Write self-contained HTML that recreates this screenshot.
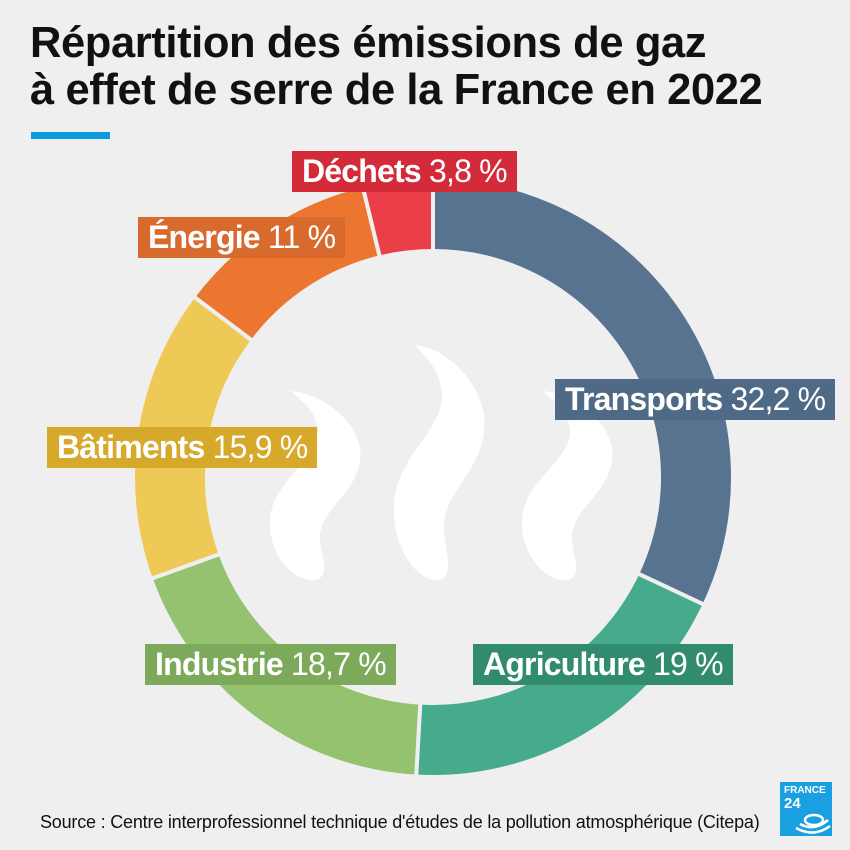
<!DOCTYPE html>
<html><head><meta charset="utf-8"><style>
body{margin:0;background:#efeff0;}
#wrap{position:relative;width:850px;height:850px;overflow:hidden;background:#efeff0;font-family:"Liberation Sans",Arial,sans-serif;}
.title{position:absolute;left:30px;top:20px;font-size:43.5px;font-weight:bold;line-height:47px;color:#111;letter-spacing:-0.4px;margin:0}
.lbl{position:absolute;height:41px;line-height:41px;font-size:32px;color:#fff;padding:0 10px;white-space:nowrap;letter-spacing:-0.8px}
.lbl b{font-weight:bold}
</style></head><body>
<div id="wrap">
<h1 class="title">Répartition des émissions de gaz<br>à effet de serre de la France en 2022</h1>
<div style="position:absolute;left:31px;top:132px;width:79px;height:7px;background:#0a9be0"></div>
<svg id="chart" width="850" height="850" style="position:absolute;left:0;top:0">
<defs><path id="wisp" d="M291 391 C330 395 365 430 360 460 C356 495 318 510 320 540 C322 560 330 575 316 580 C290 582 268 550 270 520 C272 480 320 460 318 430 C316 410 300 400 291 391 Z"/></defs>
<g id="steam" fill="#fff">
<use href="#wisp"/>
<use href="#wisp" transform="translate(124,580) scale(1,1.245) translate(0,-580)"/>
<use href="#wisp" transform="translate(252,0)"/>
</g>
<g id="slices"></g>
</svg>
<div class="lbl" style="left:292px;top:151px;background:#d42b3a"><b>Déchets</b> 3,8 %</div>
<div class="lbl" style="left:138px;top:217px;background:#d96a2e"><b>Énergie</b> 11 %</div>
<div class="lbl" style="left:555px;top:379px;background:#4f6a86"><b>Transports</b> 32,2 %</div>
<div class="lbl" style="left:47px;top:427px;background:#d6a92a"><b>Bâtiments</b> 15,9 %</div>
<div class="lbl" style="left:145px;top:644px;background:#7ca95a"><b>Industrie</b> 18,7 %</div>
<div class="lbl" style="left:473px;top:644px;background:#318c6f"><b>Agriculture</b> 19 %</div>
<div style="position:absolute;left:40px;top:812px;font-size:18px;color:#111;letter-spacing:-0.2px">Source : Centre interprofessionnel technique d'études de la pollution atmosphérique (Citepa)</div>
<div style="position:absolute;left:780px;top:782px;width:52px;height:54px;background:#1aa0e0;color:#fff;font-weight:bold;font-family:'Liberation Sans Narrow','Liberation Sans',sans-serif">
<div style="position:absolute;left:4px;top:4px;font-size:10px;line-height:10px">FRANCE</div>
<div style="position:absolute;left:4px;top:14px;font-size:15px;line-height:15px">24</div>
<svg width="52" height="54" style="position:absolute;left:0;top:0"><g fill="none" stroke="#fff" stroke-width="2.5"><ellipse cx="34" cy="38" rx="9" ry="5"/><path d="M20 42 Q34 50 48 38"/><path d="M16 46 Q34 56 50 44"/></g></svg>
</div>
</div>
<script>
const categories=["Transports","Agriculture","Industrie","Bâtiments","Énergie","Déchets"];
const values=[32.2,19,18.7,15.9,11,3.8];
const colors=["#58738f","#45ab8c","#94c26f","#efc955","#ec7530","#ea3f48"];
const cx=433,cy=477,R=300,r=226;
function pt(rad,frac){const a=frac*2*Math.PI;return [cx+rad*Math.sin(a),cy-rad*Math.cos(a)];}
const total=values.reduce((a,b)=>a+b,0);
const g=document.getElementById('slices');
let acc=0;
values.forEach((v,i)=>{
  const f0=acc/total,f1=(acc+v)/total;acc+=v;
  const large=(f1-f0)>0.5?1:0;
  const [x0,y0]=pt(R,f0),[x1,y1]=pt(R,f1),[x2,y2]=pt(r,f1),[x3,y3]=pt(r,f0);
  const p=document.createElementNS('http://www.w3.org/2000/svg','path');
  p.setAttribute('d',`M${x0} ${y0} A${R} ${R} 0 ${large} 1 ${x1} ${y1} L${x2} ${y2} A${r} ${r} 0 ${large} 0 ${x3} ${y3}Z`);
  p.setAttribute('fill',colors[i]);
  p.setAttribute('stroke','#efeff0');
  p.setAttribute('stroke-width','4');
  
  
  g.appendChild(p);
});
</script>
</body></html>
